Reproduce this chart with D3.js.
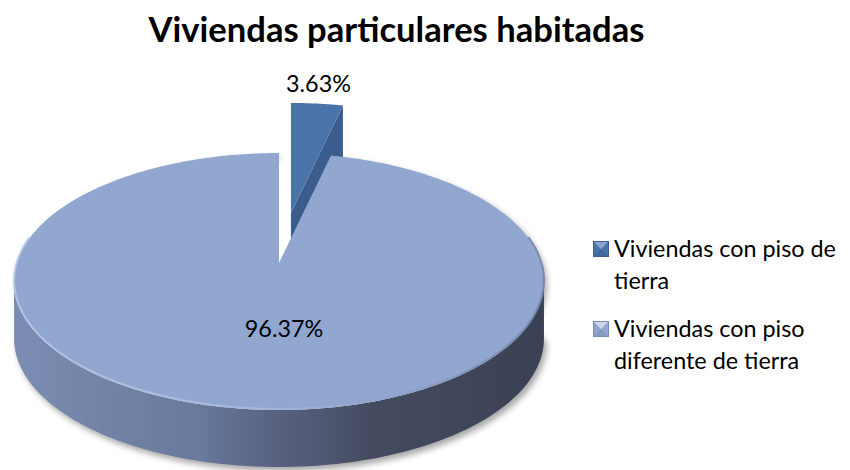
<!DOCTYPE html>
<html>
<head>
<meta charset="utf-8">
<script src="https://cdn.jsdelivr.net/npm/d3@7"></script>
<style>
  body { margin: 0; background: #ffffff; }
  svg { display: block; }
  text { font-family: Lato, "Open Sans", sans-serif; fill: #000; }
</style>
</head>
<body>
<svg id="chart" width="850" height="470"></svg>
<script>
// ---- data ----
const chartTitle = "Viviendas particulares habitadas";
const categories = ["Viviendas con piso de tierra", "Viviendas con piso diferente de tierra"];
const values = [3.63, 96.37];
const valueLabels = ["3.63%", "96.37%"];
const legendLines = [["Viviendas con piso de", "tierra"], ["Viviendas con piso", "diferente de tierra"]];
const explodeBy = [0.56, 0];

// ---- styles ----
const topColors = ["#4a73aa", "#92a7cf"];
const cutColors = ["#3b5d8d", "#8a9cc0"];

const svg = d3.select("#chart");
const defs = svg.append("defs");

// tilted disc seen in perspective: u to the right, v away from the viewer (unit radius)
const cx = 279, cy = 263, A = 262.2, B = 125.8, k = 0.144, depth = 57;
function proj(u, v) { const w = 1 + k * v; return [cx + A * u / w, cy - B * v / w]; }
function rim(a) { return proj(Math.sin(a), Math.cos(a)); }
function arcPts(a0, a1, n = 120) {
  return d3.range(n + 1).map(i => rim(a0 + (a1 - a0) * i / n));
}
const line = d3.line();
const down = p => [p[0], p[1] + depth];

const slices = d3.pie().sort(null).value(d => d)(values);
// an exploded slice is pushed outward along its mid angle, measured at the rim
const shifts = slices.map((s, i) => {
  const m = (s.startAngle + s.endAngle) / 2, e = explodeBy[i];
  const a = rim(m), b = proj((1 + e) * Math.sin(m), (1 + e) * Math.cos(m));
  return [b[0] - a[0], b[1] - a[1]];
});
const moved = (pts, i) => pts.map(p => [p[0] + shifts[i][0], p[1] + shifts[i][1]]);

// gradients
const sideGrad = defs.append("linearGradient").attr("id", "side")
  .attr("gradientUnits", "userSpaceOnUse").attr("x1", cx - A * 1.01).attr("x2", cx + A * 1.01)
  .attr("y1", 0).attr("y2", 0);
[[0, "#7b8db2"], [0.35, "#68799b"], [0.5, "#57627f"], [0.68, "#444b60"], [1, "#3b4154"]]
  .forEach(([o, c]) => sideGrad.append("stop").attr("offset", o).attr("stop-color", c));

const rimGrad = defs.append("linearGradient").attr("id", "rim")
  .attr("gradientUnits", "userSpaceOnUse").attr("x1", cx - A).attr("x2", cx + A)
  .attr("y1", 0).attr("y2", 0);
[[0, "#b9c8e6"], [0.45, "#a9badc"], [0.75, "#8a9dc4"], [1, "#6f80a6"]]
  .forEach(([o, c]) => rimGrad.append("stop").attr("offset", o).attr("stop-color", c));

const blur = defs.append("filter").attr("id", "shadow")
  .attr("x", "-10%").attr("y", "-10%").attr("width", "120%").attr("height", "130%");
blur.append("feGaussianBlur").attr("stdDeviation", 3);

const g = svg.append("g");

// ---- big slice geometry ----
const big = slices[1];
const aRight = Math.acos(-k), aLeft = 2 * Math.PI - aRight;
const nearTop = moved(arcPts(aRight, aLeft), 1);
const nearBottom = nearTop.map(down).reverse();

// soft shadow under the disc
g.append("path")
  .attr("d", line(moved(arcPts(big.startAngle, big.endAngle), 1).concat(nearBottom)) + "Z")
  .attr("transform", "translate(3,4)")
  .attr("fill", "#000").attr("opacity", 0.35)
  .attr("filter", "url(#shadow)");

// ---- exploded slice ----
const small = slices[0];
const [apex] = moved([proj(0, 0)], 0);
const [outerEnd] = moved([rim(small.endAngle)], 0);
g.append("path")
  .attr("d", line([outerEnd, apex, down(apex), down(outerEnd)]) + "Z")
  .attr("fill", cutColors[0]);
g.append("path")
  .attr("d", line([apex].concat(moved(arcPts(small.startAngle, small.endAngle, 30), 0))) + "Z")
  .attr("fill", topColors[0]);

// ---- big slice: outer wall, then top ----
g.append("path")
  .attr("d", line(nearTop.concat(nearBottom)) + "Z")
  .attr("fill", "url(#side)");

const [bigCenter] = moved([proj(0, 0)], 1);
g.append("path")
  .attr("d", line([bigCenter].concat(moved(arcPts(big.startAngle, big.endAngle, 360), 1))) + "Z")
  .attr("fill", topColors[1]);

// bevel highlight along the front rim of the top face
g.append("path")
  .attr("d", line(moved(arcPts(aRight - 0.35, aLeft + 0.35), 1).map(p => [p[0], p[1] - 1])))
  .attr("fill", "none").attr("stroke", "url(#rim)").attr("stroke-width", 2)
  .attr("opacity", 0.85);

// ---- text ----
function fitWidth(sel, target) {
  const w = sel.node().getComputedTextLength();
  const fs = parseFloat(sel.attr("font-size"));
  sel.attr("font-size", (fs * target / w).toFixed(2));
  return fs * target / w;
}

const titleSel = svg.append("text")
  .attr("x", 396.5).attr("y", 42).attr("text-anchor", "middle")
  .attr("font-size", 32).attr("font-weight", "bold").text(chartTitle);
fitWidth(titleSel, 496);

// body size taken from the widest legend line
const probe = svg.append("text").attr("font-size", 24).text(legendLines[0][0]);
const bodySize = fitWidth(probe, 222);
probe.remove();

const labelPos = [[318.5, 92], [284, 337]];
valueLabels.forEach((t, i) => {
  svg.append("text")
    .attr("x", labelPos[i][0]).attr("y", labelPos[i][1])
    .attr("text-anchor", "middle").attr("font-size", bodySize).text(t);
});

// ---- legend ----
const markerStyles = [
  { base: "#4a73aa", light: "#86a5d2", dark: "#41679c", edge: "#3d5e8f" },
  { base: "#93a7ce", light: "#cdd8ee", dark: "#8699bf", edge: "#7b8db3" }
];
const legendBase = [257, 337];
const lineGap = 31.5;
categories.forEach((c, i) => {
  const y = legendBase[i];
  const lg = svg.append("g").attr("class", "legend-item");
  const x0 = 593, s = 16, m = markerStyles[i];
  lg.append("rect").attr("x", x0).attr("y", y - s).attr("width", s).attr("height", s)
    .attr("fill", m.base);
  lg.append("path").attr("d", line([[x0, y - s], [x0 + s, y - s], [x0 + s / 2, y - s / 2]]) + "Z")
    .attr("fill", m.light);
  lg.append("path").attr("d", line([[x0, y], [x0 + s, y], [x0 + s / 2, y - s / 2]]) + "Z")
    .attr("fill", m.dark);
  lg.append("rect").attr("x", x0 + 0.5).attr("y", y - s + 0.5).attr("width", s - 1).attr("height", s - 1)
    .attr("fill", "none").attr("stroke", m.edge).attr("stroke-width", 1);
  legendLines[i].forEach((t, j) => {
    lg.append("text").attr("x", 614).attr("y", y + j * lineGap)
      .attr("font-size", bodySize).text(t);
  });
});
</script>
</body>
</html>
